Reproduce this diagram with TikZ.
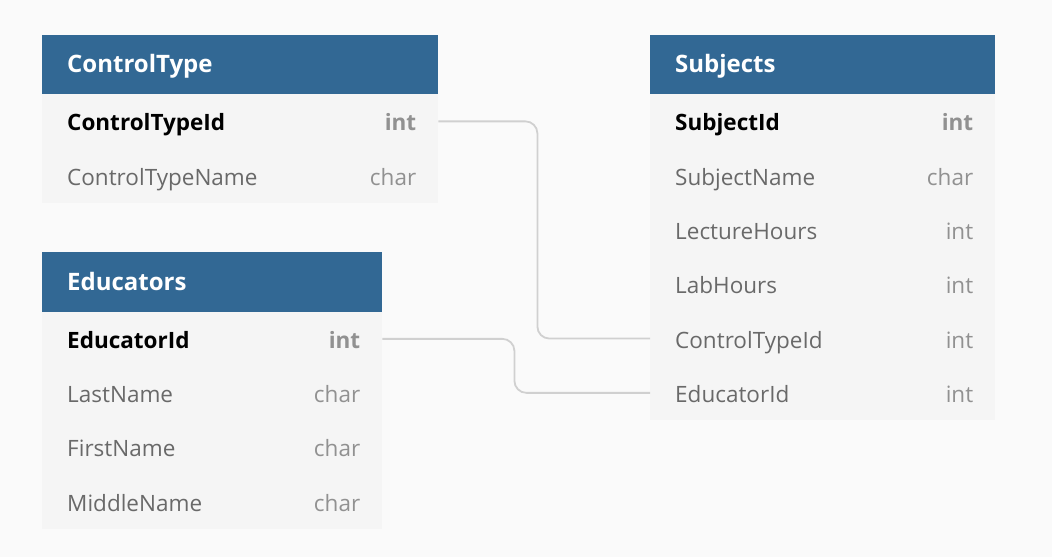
\documentclass[tikz,border=0pt]{standalone}
\usepackage{fontspec}
\setmainfont{Open Sans}
\usetikzlibrary{positioning}
\definecolor{hdrblue}{RGB}{50,104,148}
\definecolor{rowgray}{RGB}{245,245,245}
\definecolor{bggray}{RGB}{250,250,250}
\definecolor{nametext}{RGB}{105,105,105}
\definecolor{typetext}{RGB}{145,145,145}
\definecolor{conncol}{RGB}{208,208,208}
\tikzset{
  hdr/.style={fill=hdrblue, draw=none, anchor=north west, minimum height=59.5pt, inner sep=0pt},
  rowbox/.style={fill=rowgray, draw=none, anchor=north west, minimum height=54.3pt, inner sep=0pt},
  hdrtxt/.style={anchor=west, inner sep=0pt, text=white, font=\fontsize{24}{28}\selectfont\bfseries, text height=19pt, text depth=2pt},
  nm/.style={anchor=west, inner sep=0pt, text=nametext, font=\fontsize{22.5}{26}\selectfont, text height=20pt, text depth=1pt},
  ty/.style={anchor=east, inner sep=0pt, text=typetext, font=\fontsize{22.5}{26}\selectfont, text height=20pt, text depth=1pt},
  pknm/.style={nm, text=black, font=\fontsize{22.5}{26}\selectfont\bfseries},
  pkty/.style={ty, font=\fontsize{22.5}{26}\selectfont\bfseries},
  conn/.style={draw=conncol, line width=1.8pt, rounded corners=12pt},
}
\begin{document}
\begin{tikzpicture}[x=1pt,y=-1pt]
\fill[bggray] (0,0) rectangle (1052,557);
\useasboundingbox (0,0) rectangle (1052,557);
% ControlType
\node[hdr, minimum width=396pt] (ctH) at (42,34.5) {};
\node[rowbox, minimum width=396pt] (ctR1) at (42,94) {};
\node[rowbox, minimum width=396pt] (ctR2) at (42,148.3) {};
\node[hdrtxt] (ctHt) at ([xshift=25pt]ctH.west) {ControlType};
\node[pknm] (ctN1) at ([xshift=25pt]ctR1.west) {ControlTypeId};
\node[pkty] (ctT1) at ([xshift=-22pt]ctR1.east) {int};
\node[nm] (ctN2) at ([xshift=25pt]ctR2.west) {ControlTypeName};
\node[ty] (ctT2) at ([xshift=-22pt]ctR2.east) {char};
% Educators
\node[hdr, minimum width=340pt] (edH) at (42,252) {};
\node[rowbox, minimum width=340pt] (edR1) at (42,311.5) {};
\node[rowbox, minimum width=340pt] (edR2) at (42,365.8) {};
\node[rowbox, minimum width=340pt] (edR3) at (42,420.1) {};
\node[rowbox, minimum width=340pt] (edR4) at (42,474.4) {};
\node[hdrtxt] (edHt) at ([xshift=25pt]edH.west) {Educators};
\node[pknm] (edN1) at ([xshift=25pt]edR1.west) {EducatorId};
\node[pkty] (edT1) at ([xshift=-22pt]edR1.east) {int};
\node[nm] (edN2) at ([xshift=25pt]edR2.west) {LastName};
\node[ty] (edT2) at ([xshift=-22pt]edR2.east) {char};
\node[nm] (edN3) at ([xshift=25pt]edR3.west) {FirstName};
\node[ty] (edT3) at ([xshift=-22pt]edR3.east) {char};
\node[nm] (edN4) at ([xshift=25pt]edR4.west) {MiddleName};
\node[ty] (edT4) at ([xshift=-22pt]edR4.east) {char};
% Subjects
\node[hdr, minimum width=345pt] (sjH) at (650,34.5) {};
\node[rowbox, minimum width=345pt] (sjR1) at (650,94) {};
\node[rowbox, minimum width=345pt] (sjR2) at (650,148.3) {};
\node[rowbox, minimum width=345pt] (sjR3) at (650,202.6) {};
\node[rowbox, minimum width=345pt] (sjR4) at (650,256.9) {};
\node[rowbox, minimum width=345pt] (sjR5) at (650,311.2) {};
\node[rowbox, minimum width=345pt] (sjR6) at (650,365.5) {};
\node[hdrtxt] (sjHt) at ([xshift=25pt]sjH.west) {Subjects};
\node[pknm] (sjN1) at ([xshift=25pt]sjR1.west) {SubjectId};
\node[pkty] (sjT1) at ([xshift=-22pt]sjR1.east) {int};
\node[nm] (sjN2) at ([xshift=25pt]sjR2.west) {SubjectName};
\node[ty] (sjT2) at ([xshift=-22pt]sjR2.east) {char};
\node[nm] (sjN3) at ([xshift=25pt]sjR3.west) {LectureHours};
\node[ty] (sjT3) at ([xshift=-22pt]sjR3.east) {int};
\node[nm] (sjN4) at ([xshift=25pt]sjR4.west) {LabHours};
\node[ty] (sjT4) at ([xshift=-22pt]sjR4.east) {int};
\node[nm] (sjN5) at ([xshift=25pt]sjR5.west) {ControlTypeId};
\node[ty] (sjT5) at ([xshift=-22pt]sjR5.east) {int};
\node[nm] (sjN6) at ([xshift=25pt]sjR6.west) {EducatorId};
\node[ty] (sjT6) at ([xshift=-22pt]sjR6.east) {int};
% connectors
\draw[conn] (ctR1.east) -- ([xshift=99pt]ctR1.east) |- (sjR5.west);
\draw[conn] (edR1.east) -- ([xshift=132pt]edR1.east) |- (sjR6.west);
\end{tikzpicture}
\end{document}
